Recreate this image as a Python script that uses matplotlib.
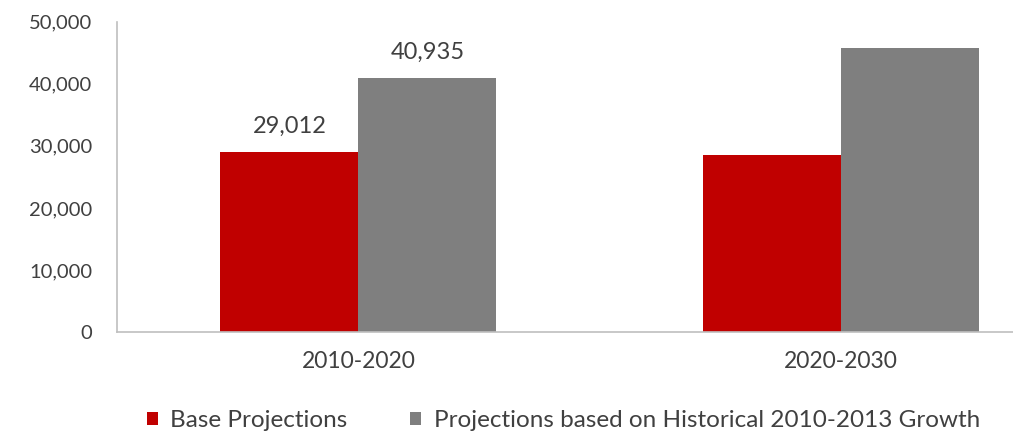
import matplotlib
matplotlib.use("Agg")
import matplotlib.pyplot as plt
import matplotlib.ticker as plticker
import numpy as np

categories = ["2010-2020", "2020-2030"]
base = [29012, 28600]
historical = [40935, 45700]
series_names = ["Base Projections", "Projections based on Historical 2010-2013 Growth"]

plt.rcParams['font.family'] = ['Lato', 'DejaVu Sans']

fig = plt.figure(figsize=(10.13, 4.34), dpi=100)
ax = fig.add_axes([0.1155, 0.235, 0.953, 0.715])

x = np.arange(len(categories))
w = 0.286
b1 = ax.bar(x - w / 2, base, w, color='#c00000', label=series_names[0])
b2 = ax.bar(x + w / 2, historical, w, color='#7f7f7f', label=series_names[1])

# only the first group carries labels
ax.annotate(f"{base[0]:,}", (x[0] - w / 2, base[0]), xytext=(0, 11),
            textcoords='offset points', ha='center', va='bottom',
            fontsize=17, color='#404040')
ax.annotate(f"{historical[0]:,}", (x[0] + w / 2, historical[0]), xytext=(0, 11),
            textcoords='offset points', ha='center', va='bottom',
            fontsize=17, color='#404040')

ax.set_xlim(-0.5, 1.5)
ax.set_ylim(0, 50000)
ax.yaxis.set_major_locator(plticker.MultipleLocator(10000))
ax.yaxis.set_major_formatter(plticker.FuncFormatter(lambda v, p: f"{int(v):,}"))
ax.set_xticks(x)
ax.set_xticklabels(categories)
ax.tick_params(axis='both', length=0, labelcolor='#404040')
ax.tick_params(axis='y', pad=18, labelsize=14.5)
ax.tick_params(axis='x', pad=14, labelsize=16.5)

for s in ['top', 'right']:
    ax.spines[s].set_visible(False)
for s in ['left', 'bottom']:
    ax.spines[s].set_color('#bfbfbf')
    ax.spines[s].set_linewidth(1.2)

fig.legend(handles=[b1, b2], loc='center left', bbox_to_anchor=(0.145, 0.03),
           ncol=2, frameon=False, fontsize=17.5, labelcolor='#404040',
           borderpad=0, borderaxespad=0,
           handlelength=0.45, handleheight=0.45, handletextpad=0.5, columnspacing=2.6)

fig.savefig("out.png", dpi=100)
